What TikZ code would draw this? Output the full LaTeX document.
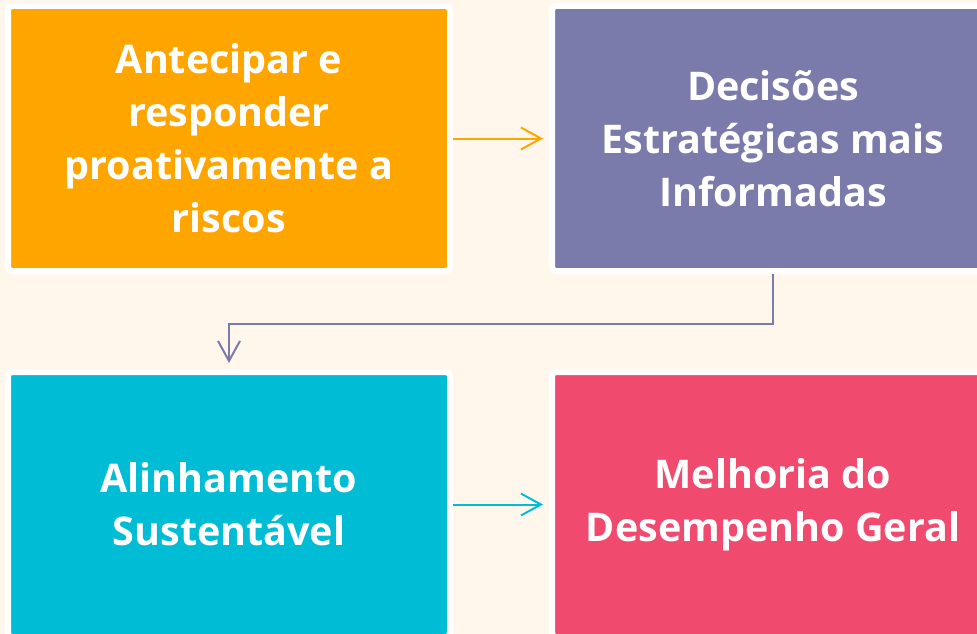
\documentclass[tikz,border=0pt]{standalone}
\usepackage{fontspec}
\setmainfont{Open Sans}
\usetikzlibrary{positioning, arrows.meta}

\definecolor{bgcream}{HTML}{FFF7EC}
\definecolor{boxorange}{HTML}{FFA500}
\definecolor{boxpurple}{HTML}{7A7AAB}
\definecolor{boxcyan}{HTML}{00BCD5}
\definecolor{boxpink}{HTML}{F04A6E}

\begin{document}
\begin{tikzpicture}[
    x=1pt, y=-1pt,
    box/.style={
        rectangle, draw=white, line width=6pt, rounded corners=4pt,
        minimum width=442pt, minimum height=265pt, inner sep=0pt,
        align=center, text=white, font=\fontsize{39.5}{53}\selectfont\bfseries},
    arr/.style={-{Straight Barb[length=20pt, width=22pt]}, line width=2pt}
]

%% ── Canvas ──────────────────────────────────────────────────────
\fill[bgcream] (0, 0) rectangle (977, 634);
\useasboundingbox (0, 0) rectangle (977, 634);
\clip (0, 0) rectangle (977, 634);

%% ── Top row ─────────────────────────────────────────────────────
\node[box, fill=boxorange] (antecipar) at (229, 138.5)
    {Antecipar e\\responder\\proativamente a\\riscos};
\node[box, fill=boxpurple] (decisoes) at (773, 138.5)
    {Decisões\\Estratégicas mais\\Informadas};

%% ── Bottom row ──────────────────────────────────────────────────
\node[box, fill=boxcyan] (alinhamento) at (229, 504.5)
    {Alinhamento\\Sustentável};
\node[box, fill=boxpink] (melhoria) at (773, 504.5)
    {Melhoria do\\Desempenho Geral};

%% ── Arrows ──────────────────────────────────────────────────────
\draw[arr, boxorange] (antecipar.east) -- ([xshift=-6pt]decisoes.west);
\draw[arr, boxpurple] (decisoes.south) -- ++(0, 50) -| ([yshift=6pt]alinhamento.north);
\draw[arr, boxcyan] (alinhamento.east) -- ([xshift=-6pt]melhoria.west);

\end{tikzpicture}
\end{document}
